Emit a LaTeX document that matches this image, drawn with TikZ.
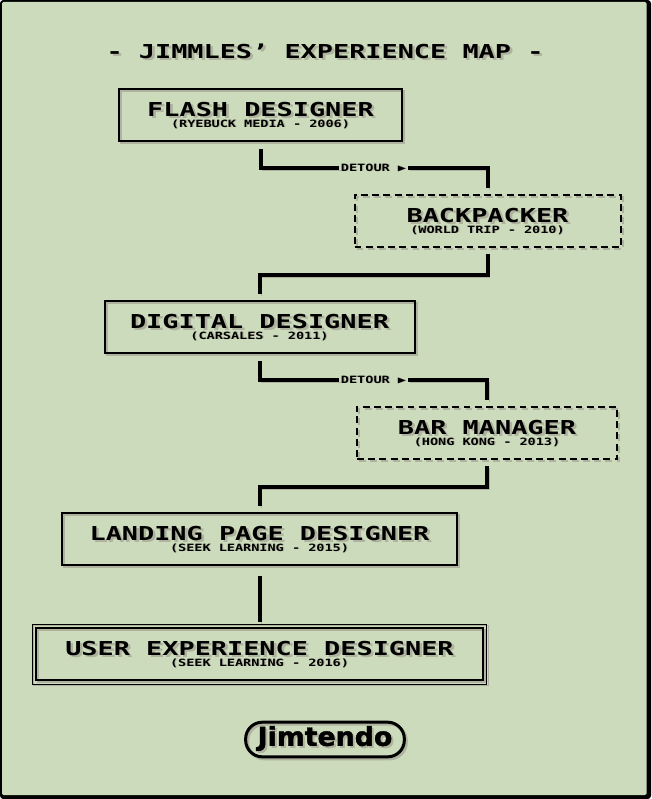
\documentclass[tikz,border=0pt]{standalone}
\usepackage{fontspec}
\setmainfont{DejaVu Sans Mono}[BoldFont={DejaVu Sans Mono Bold}]
\newfontfamily\logofont[FakeBold=1.6]{DejaVu Sans Bold}
\definecolor{screen}{HTML}{CCDBBB}
\definecolor{shade}{HTML}{AEB29E}
\newcommand\shad[2]{\makebox[0pt][l]{\kern#1\raisebox{-#1}{\color{shade}#2}}#2}
\newcommand\bigt[1]{\scalebox{1.4}[1]{\fontsize{14.4pt}{15pt}\bfseries\shad{1.4pt}{#1}}}
\newcommand\smallt[1]{\scalebox{1.35}[1]{\fontsize{7.5pt}{7pt}\bfseries\shad{.6pt}{#1}}}
\newcommand\jobt[2]{\raisebox{-.2pt}[\height][\depth]{\bigt{#1}}\\[-4.6pt]\raisebox{-.75pt}[\height][\depth]{\smallt{#2}}}
\tikzset{
  x=.75pt,y=-.75pt,
  jobbox/.style={draw=black,line width=1.5pt,align=center,inner sep=0pt,
    minimum height=39.5pt,
    preaction={draw=shade,transform canvas={shift={(1.5pt,-1.5pt)}}}},
  side/.style={jobbox,dash pattern=on 5.2pt off 3.2pt},
  conn/.style={draw=black,line width=3pt,
    preaction={draw=shade,transform canvas={shift={(1.5pt,-1.5pt)}}}},
  tag/.style={inner sep=1.5pt,font=\bfseries},
}
\begin{document}
\begin{tikzpicture}
\useasboundingbox (0,0) rectangle (651,799);
\fill[white] (0,0) rectangle (651,799);
\fill[black,rounded corners=2.5pt] (0,0) rectangle (651,799);
\fill[screen,rounded corners=1pt] (2,2) rectangle (646.5,795);

\node[inner sep=0pt] (title) at (325,52) {\bigt{- JIMMLES' EXPERIENCE MAP -}};

\node[jobbox,minimum width=212pt] (flash) at (260.5,115) {\jobt{FLASH DESIGNER}{(RYEBUCK MEDIA - 2006)}};
\node[side,minimum width=199.5pt] (back) at (487.5,221) {\jobt{BACKPACKER}{(WORLD TRIP - 2010)}};
\node[jobbox,minimum width=232.5pt] (digital) at (259.5,327) {\jobt{DIGITAL DESIGNER}{(CARSALES - 2011)}};
\node[side,minimum width=195pt] (bar) at (487,433) {\jobt{BAR MANAGER}{(HONG KONG - 2013)}};
\node[jobbox,minimum width=296.5pt] (landing) at (259.5,539) {\jobt{LANDING PAGE DESIGNER}{(SEEK LEARNING - 2015)}};
\node[jobbox,minimum width=335pt,minimum height=39pt] (user) at (259.5,654) {\jobt{USER EXPERIENCE DESIGNER}{(SEEK LEARNING - 2016)}};
\draw[line width=.75pt,preaction={draw=shade,transform canvas={shift={(.75pt,-.75pt)}}}]
  ([shift={(-3,-3)}]user.north west) rectangle ([shift={(3,3)}]user.south east);

\node[tag] (d1) at (373.5,168) {\smallt{DETOUR ▶}};
\node[tag] (d2) at (373.5,380) {\smallt{DETOUR ▶}};

\draw[conn,shorten <=5.2pt] (flash.south) |- (d1.west);
\draw[conn,shorten >=4pt] (d1.east) -| (back.north);
\draw[conn,shorten <=4.5pt,shorten >=4pt] (back.south) -- ++(0,26.5) -| (digital.north);
\draw[conn,shorten <=5.2pt] (digital.south) |- (d2.west);
\draw[conn,shorten >=4pt] (d2.east) -| (bar.north);
\draw[conn,shorten <=4.5pt,shorten >=4pt] (bar.south) -- ++(0,26.5) -| (landing.north);
\draw[conn,shorten <=7pt,shorten >=4pt] (landing.south) -- (user.north);

\node[draw=black,line width=2.25pt,rounded corners=12.5pt,minimum width=119pt,minimum height=26pt,inner sep=0pt,
  preaction={draw=shade,transform canvas={shift={(1.5pt,-1.5pt)}}}] (logo) at (325,739.5)
  {\raisebox{-1.2pt}{\scalebox{1.03}[1]{\logofont\fontsize{19.5pt}{20pt}\selectfont\shad{1.5pt}{Jimtendo}}}};
\end{tikzpicture}
\end{document}
